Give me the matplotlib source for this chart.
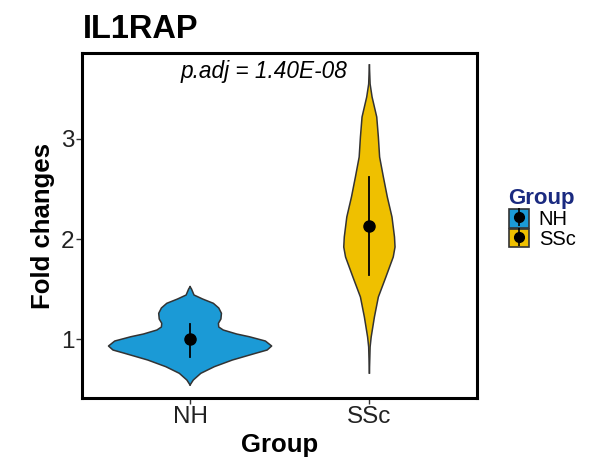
import matplotlib.pyplot as plt
from matplotlib.patches import Patch
from matplotlib.lines import Line2D
from matplotlib.legend_handler import HandlerTuple

plt.rcParams['font.family'] = ['Liberation Sans', 'DejaVu Sans']

groups = ['NH', 'SSc']
colors = ['#1B9AD6', '#EFC000']

# violin outlines: y value and half width (x units)
nh_y = [1.523, 1.50, 1.44, 1.40, 1.357, 1.31, 1.257, 1.20, 1.157, 1.12, 1.09, 1.05,
        1.023, 0.98, 0.93, 0.89, 0.857, 0.79, 0.723, 0.657, 0.59, 0.54]
nh_w = [0.0, 0.008, 0.022, 0.07, 0.13, 0.16, 0.175, 0.172, 0.158, 0.16, 0.185, 0.26,
        0.33, 0.42, 0.455, 0.43, 0.365, 0.236, 0.135, 0.06, 0.018, 0.0]
ssc_y = [3.74, 3.55, 3.42, 3.22, 3.02, 2.82, 2.62, 2.42, 2.22, 2.02, 1.92, 1.82,
         1.62, 1.42, 1.22, 1.02, 0.92, 0.66]
ssc_w = [0.0, 0.004, 0.015, 0.041, 0.05, 0.057, 0.078, 0.10, 0.126, 0.14, 0.143, 0.133,
         0.092, 0.05, 0.028, 0.01, 0.004, 0.0]

# median and range of the point range
centers = [1.0, 2.13]
lows = [0.823, 1.64]
highs = [1.15, 2.62]

fig = plt.figure(figsize=(5.99, 4.62), dpi=100)
ax = fig.add_axes([0.1377, 0.1385, 0.6586, 0.7468])

shapes = [(nh_y, nh_w), (ssc_y, ssc_w)]
for i, (ys, ws) in enumerate(shapes):
    x0 = i + 1
    left = [x0 - w for w in ws]
    right = [x0 + w for w in ws]
    ax.fill_betweenx(ys, left, right, facecolor=colors[i], edgecolor='none', zorder=2)
    ax.plot(left, ys, color='#333333', lw=1.1, zorder=3)
    ax.plot(right, ys, color='#333333', lw=1.1, zorder=3)
    ax.plot([x0, x0], [lows[i], highs[i]], color='black', lw=1.3, zorder=4)
    ax.plot([x0], [centers[i]], 'o', color='black', ms=8, zorder=5)

ax.set_xlim(0.4, 2.6)
ax.set_ylim(0.41, 3.86)
ax.set_xticks([1, 2])
ax.set_xticklabels(groups)
ax.set_yticks([1, 2, 3])
ax.tick_params(labelsize=17.5, length=4, width=1, color='#333333', labelcolor='#222222', pad=2)
for s in ax.spines.values():
    s.set_linewidth(2.2)
    s.set_color('black')

ax.set_xlabel('Group', fontsize=18.5, fontweight='bold', labelpad=3)
ax.set_ylabel('Fold changes', fontsize=18.5, fontweight='bold', labelpad=4)
ax.text(1.41, 3.67, 'p.adj = 1.40E-08', fontsize=16.3, fontstyle='italic',
        ha='center', va='center')
fig.text(0.1377, 0.937, 'IL1RAP', fontsize=23.5, fontweight='bold', ha='left', va='center')

handles = []
for c in colors:
    handles.append((Patch(facecolor=c, edgecolor='#333333', lw=1.2),
                    Line2D([], [], color='black', marker='|', ms=13, mew=1.2, ls='none'),
                    Line2D([], [], color='black', marker='o', ms=7, ls='none')))
leg = fig.legend(handles, groups, handler_map={tuple: HandlerTuple(ndivide=1, pad=0)},
                 loc='upper left', bbox_to_anchor=(0.849, 0.592), frameon=False,
                 title='Group', fontsize=14.5, handlelength=1.0, handleheight=1.0,
                 labelspacing=0.0, handletextpad=0.5, borderaxespad=0, borderpad=0)
leg.get_title().set_fontweight('bold')
leg.get_title().set_fontsize(16)
leg.get_title().set_color('#1A2A80')
leg._legend_box.align = 'left'

fig.savefig('out.png', dpi=100)
